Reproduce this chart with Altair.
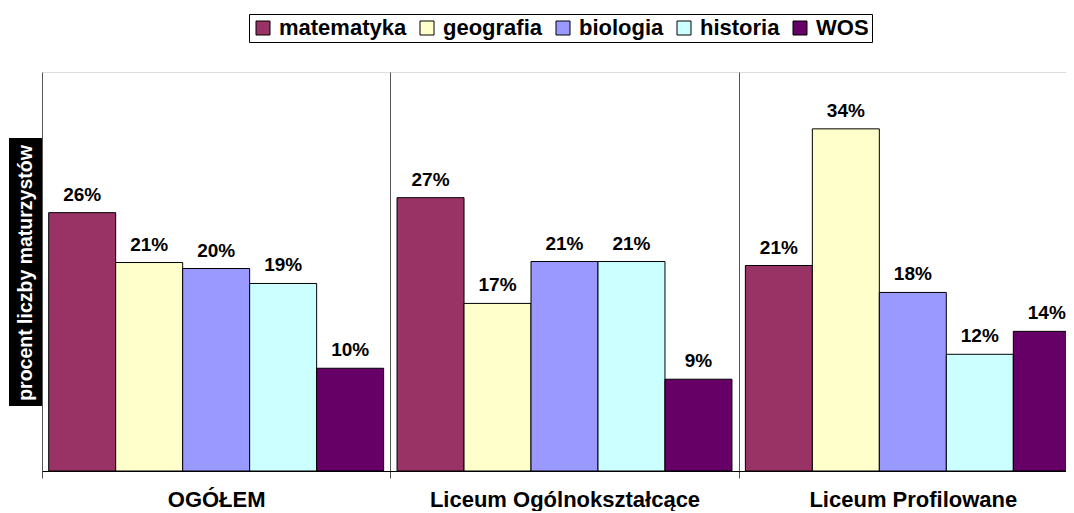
import altair as alt
import pandas as pd

groups = ["OGÓŁEM", "Liceum Ogólnokształcące", "Liceum Profilowane"]
subjects = ["matematyka", "geografia", "biologia", "historia", "WOS"]
colors = ["#993366", "#FFFFCC", "#9999FF", "#CCFFFF", "#660066"]

matematyka = [25.9, 27.4, 20.6]
geografia = [20.9, 16.8, 34.3]
biologia = [20.3, 21.0, 17.9]
historia = [18.8, 21.0, 11.7]
wos = [10.3, 9.2, 14.0]

series = [matematyka, geografia, biologia, historia, wos]
rows = []
for s, vals in zip(subjects, series):
    for g, v in zip(groups, vals):
        rows.append({"grupa": g, "przedmiot": s, "wartosc": v})
df = pd.DataFrame(rows)

FONT = "Liberation Sans"

x_enc = alt.X(
    "grupa:N",
    sort=groups,
    scale=alt.Scale(paddingInner=0, paddingOuter=0),
    axis=alt.Axis(
        title=None,
        labelAngle=0,
        labelFont=FONT,
        labelFontSize=22,
        labelFontWeight="bold",
        labelColor="black",
        labelPadding=11,
        labelLimit=0,
        tickBand="extent",
        tickSize=7,
        tickColor="#555555",
        domainColor="black",
        grid=True,
        gridColor="#555555",
        gridWidth=1,
    ),
)
xoff = alt.XOffset(
    "przedmiot:N", sort=subjects, scale=alt.Scale(paddingInner=0, paddingOuter=0.1)
)
y_enc = alt.Y(
    "wartosc:Q",
    scale=alt.Scale(domain=[0, 40], nice=False),
    axis=alt.Axis(title=None, labels=False, ticks=False, grid=False, domain=False),
)

bars = alt.Chart(df).mark_bar(stroke="black", strokeWidth=1).encode(
    x=x_enc,
    xOffset=xoff,
    y=y_enc,
    color=alt.Color(
        "przedmiot:N",
        sort=subjects,
        scale=alt.Scale(domain=subjects, range=colors),
        legend=alt.Legend(
            title=None,
            orient="none",
            legendX=207,
            legendY=-58,
            direction="horizontal",
            columns=5,
            columnPadding=9,
            labelOffset=5,
            symbolOffset=0,
            symbolType="square",
            symbolSize=196,
            symbolStrokeColor="black",
            symbolStrokeWidth=1,
            labelFont=FONT,
            labelFontSize=22,
            labelFontWeight="bold",
            labelColor="black",
            strokeColor="black",
            fillColor="white",
            padding=3,
        ),
    ),
)

labels = alt.Chart(df).mark_text(
    font=FONT, fontSize=19, fontWeight="bold", color="black",
    baseline="alphabetic", dy=-12,
).transform_calculate(
    lab="format(datum.wartosc, '.0f') + '%'"
).encode(
    x=alt.X("grupa:N", sort=groups),
    xOffset=alt.XOffset("przedmiot:N", sort=subjects),
    y=alt.Y("wartosc:Q"),
    text="lab:N",
)

one = pd.DataFrame({"t": ["procent liczby maturzystów"]})
ybox = alt.Chart(one).mark_rect(color="black").encode(
    x=alt.value(-33), x2=alt.value(0), y=alt.value(66), y2=alt.value(334)
)
ytext = alt.Chart(one).mark_text(
    font=FONT, fontSize=19.5, fontWeight="bold", color="white",
    angle=270, align="center", baseline="middle",
).encode(x=alt.value(-16), y=alt.value(201), text="t:N")

chart = alt.layer(bars, labels, ybox, ytext).properties(
    width=1045,
    height=399,
    autosize=alt.AutoSizeParams(type="none"),
    padding={"left": 34, "top": 64, "right": -21, "bottom": 40},
).configure_view(stroke="black", strokeWidth=1).configure(background="white")

chart.save("out.html", embed_options={"renderer": "svg", "actions": False})
